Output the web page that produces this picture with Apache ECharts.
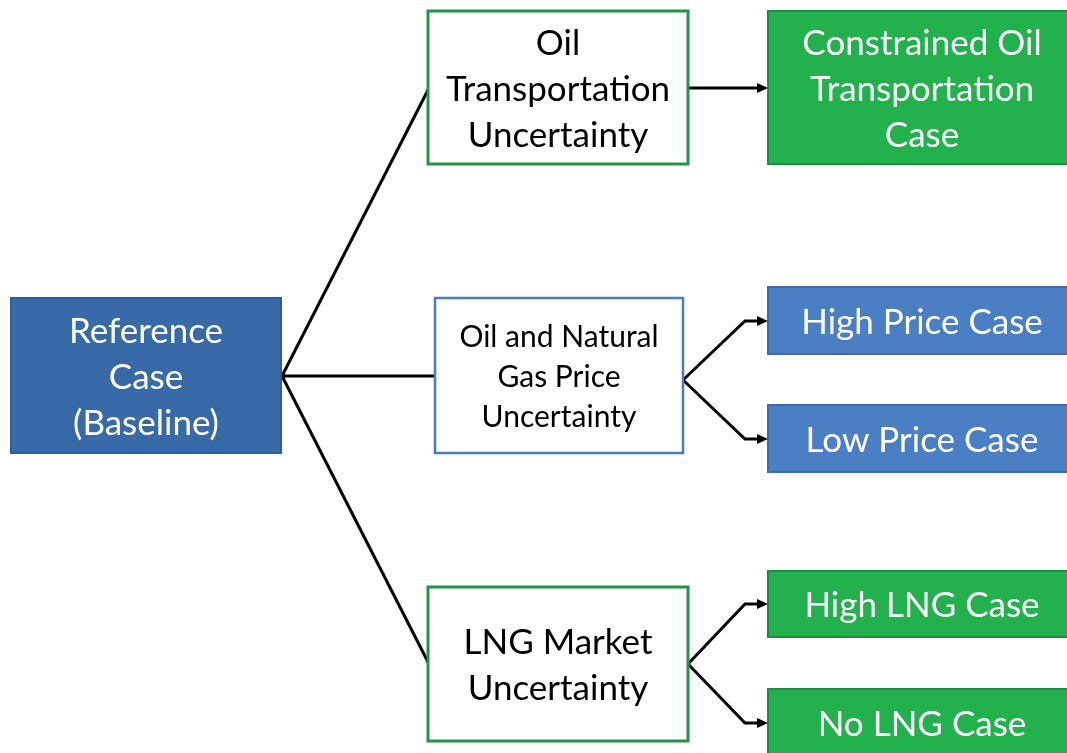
<!DOCTYPE html>
<html><head><meta charset="utf-8">
<script src="https://cdn.jsdelivr.net/npm/echarts@6/dist/echarts.min.js"></script>
<style>html,body{margin:0;padding:0;background:#fff}#c{width:1067px;height:753px}</style>
</head><body><div id="c"></div>
<script>
// Node content
const nodeLabels = [
  "Reference\nCase\n(Baseline)",
  "Oil\nTransportation\nUncertainty",
  "Oil and Natural\nGas Price\nUncertainty",
  "LNG Market\nUncertainty",
  "Constrained Oil\nTransportation\nCase",
  "High Price Case",
  "Low Price Case",
  "High LNG Case",
  "No LNG Case"
];
const nodeKinds = ["baseBlue","hollowGreen","hollowBlue","hollowGreen","solidGreen","solidBlue","solidBlue","solidGreen","solidGreen"];
// Tree links: [from, to]
const linkPairs = [[0,1],[0,2],[0,3],[1,4],[2,5],[2,6],[3,7],[3,8]];

// Layout (diagram units = pixels of the 1067x753 canvas)
const boxX0 = [11,428,435,428,768,768,768,768,768];
const boxX1 = [281,688,683,688,1076,1076,1076,1076,1076];
const boxY0 = [298,11,298,587,11,287,405,571,689];
const boxY1 = [453,164,453,741,164,354,472,637,757];
const styles = {
  baseBlue:   {fill:"#386aa8", stroke:"#2f5e96", lw:2, color:"#ffffff", size:35, lh:46},
  hollowGreen:{fill:"#ffffff", stroke:"#23934a", lw:3, color:"#000000", size:35, lh:46},
  hollowBlue: {fill:"#ffffff", stroke:"#4a7ebb", lw:2.5, color:"#000000", size:30, lh:40},
  solidGreen: {fill:"#22b14c", stroke:"#1d8e3f", lw:2, color:"#ffffff", size:35, lh:46},
  solidBlue:  {fill:"#4a80c3", stroke:"#3d6ca8", lw:2, color:"#ffffff", size:35, lh:46}
};
const FONT = "Lato, 'Open Sans', sans-serif";
const HUB_Y = 376, FORK_X = 745;

function edgePath(a, b) {
  const sx = boxX1[a];
  const tx = boxX0[b], ty = (boxY0[b] + boxY1[b]) / 2;
  if (a === 0) {
    const ey = b === 1 ? 90 : (b === 3 ? 662 : HUB_Y);
    return {pts: [[sx + 1, HUB_Y], [tx, ey]], arrow: false};
  }
  if (b === 4) return {pts: [[sx, 88], [tx, 88]], arrow: true};
  const fy = (a === 2) ? 380 : 664;
  return {pts: [[sx, fy], [FORK_X, Math.round(ty) + 0], [tx, Math.round(ty)]], arrow: true};
}
const edges = linkPairs.map(([a,b]) => edgePath(a,b));
const edgeData = edges.map((e,i) => [i]);
const boxData = nodeLabels.map((t,i) => [i]);

const chart = echarts.init(document.getElementById('c'), null, {renderer:'canvas'});
chart.setOption({
  animation:false,
  grid:{left:0,right:0,top:0,bottom:0},
  xAxis:{type:'value',min:0,max:1067,show:false},
  yAxis:{type:'value',min:0,max:753,inverse:true,show:false},
  series:[
    {
      type:'custom', coordinateSystem:'cartesian2d', silent:true, z:1,
      data: edgeData,
      renderItem:function(params, api){
        const e = edges[api.value(0)];
        const pts = e.pts.map(p => api.coord(p));
        const children = [];
        const n = pts.length;
        let linePts = pts.slice();
        if (e.arrow) {
          const tip = pts[n-1];
          linePts[n-1] = [tip[0]-8, tip[1]];
          children.push({type:'polygon', shape:{points:[[tip[0],tip[1]],[tip[0]-11,tip[1]-5],[tip[0]-11,tip[1]+5]]},
            style:{fill:'#000'}});
        }
        children.unshift({type:'polyline', shape:{points:linePts}, style:{stroke:'#000', lineWidth:3, fill:null, lineJoin:'miter'}});
        return {type:'group', children:children};
      }
    },
    {
      type:'custom', coordinateSystem:'cartesian2d', silent:true, z:2,
      data: boxData,
      renderItem:function(params, api){
        const i = api.value(0);
        const s = styles[nodeKinds[i]];
        const p0 = api.coord([boxX0[i], boxY0[i]]);
        const p1 = api.coord([boxX1[i], boxY1[i]]);
        return {
          type:'group',
          children:[
            {type:'rect', shape:{x:p0[0],y:p0[1],width:p1[0]-p0[0],height:p1[1]-p0[1]},
             style:{fill:s.fill, stroke:s.stroke, lineWidth:s.lw}},
            {type:'text', style:{text:nodeLabels[i], x:(p0[0]+p1[0])/2,
              y:(p0[1]+p1[1])/2 + 2, align:'center', verticalAlign:'middle',
              fill:s.color, font:s.size+'px '+FONT, lineHeight:s.lh}}
          ]
        };
      }
    }
  ]
});
</script></body></html>
